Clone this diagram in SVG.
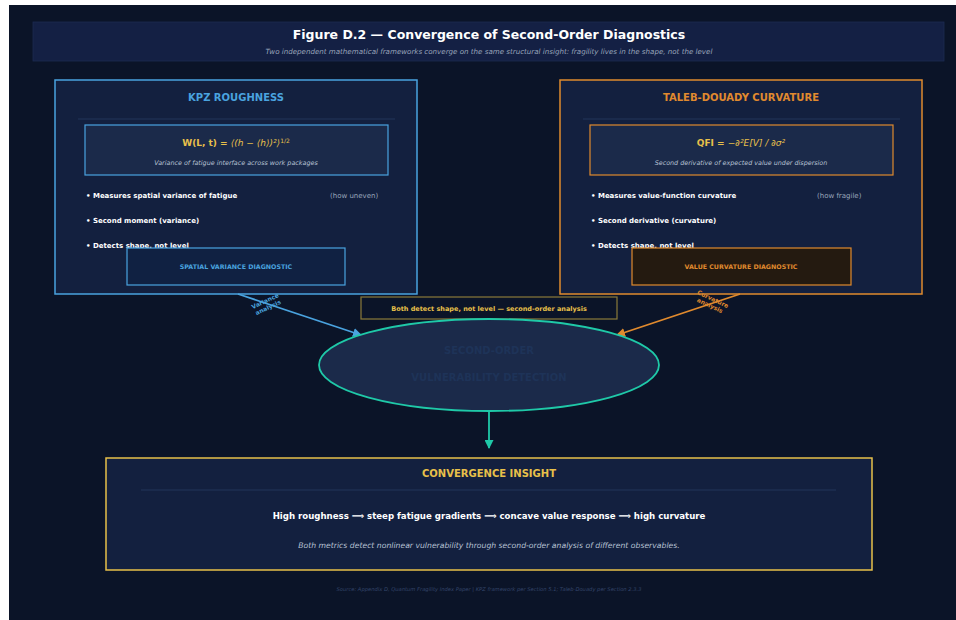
<svg xmlns="http://www.w3.org/2000/svg" width="956" height="620" viewBox="0 0 956 620">
<defs>
<style>
text{font-family:"DejaVu Sans","Liberation Sans",sans-serif}
.bg{fill:#0b1428}
.panel{fill:#13203f;stroke-width:1.5}
.inner{fill:#1b2a4a;stroke-width:1.2}
.blue{stroke:#4aa3df}
.orange{stroke:#e08a2e}
.h{font-weight:bold;font-size:10px;text-anchor:middle}
.f{font-size:9px;text-anchor:middle;fill:#e8c04a}
.sub{font-style:italic;font-size:6.4px;fill:#b8c2d4;text-anchor:middle}
.b{font-weight:bold;font-size:7px;fill:#ffffff}
.g{font-size:7px;fill:#9aa6bb}
.diag{font-weight:bold;font-size:6.3px;text-anchor:middle}
.sep{stroke:#23345a;stroke-width:1}
.lbl{font-weight:bold;font-size:6px;text-anchor:middle}
</style>
<marker id="ab" markerWidth="9" markerHeight="9" refX="8" refY="4.5" orient="auto" markerUnits="userSpaceOnUse"><path d="M0,0 L9,4.5 L0,9 Z" fill="#4aa3df"/></marker>
<marker id="ao" markerWidth="9" markerHeight="9" refX="8" refY="4.5" orient="auto" markerUnits="userSpaceOnUse"><path d="M0,0 L9,4.5 L0,9 Z" fill="#e08a2e"/></marker>
<marker id="at" markerWidth="9" markerHeight="9" refX="8" refY="4.5" orient="auto" markerUnits="userSpaceOnUse"><path d="M0,0 L9,4.5 L0,9 Z" fill="#1fc9a8"/></marker>
</defs>
<rect x="0" y="0" width="956" height="620" fill="#ffffff"/>
<rect class="bg" x="9" y="5" width="947" height="615"/>

<g id="header">
<rect x="33" y="22" width="911" height="39" fill="#142044" stroke="#1c2b52" stroke-width="0.8"/>
<text x="489" y="39" text-anchor="middle" font-weight="bold" font-size="12.5" fill="#ffffff">Figure D.2 — Convergence of Second-Order Diagnostics</text>
<text x="489" y="54" text-anchor="middle" font-style="italic" font-size="7.1" fill="#9aa6bb">Two independent mathematical frameworks converge on the same structural insight: fragility lives in the shape, not the level</text>
</g>

<g id="kpz">
<rect class="panel blue" x="55" y="80" width="362" height="214"/>
<text class="h" x="236" y="101" fill="#4aa3df">KPZ ROUGHNESS</text>
<line class="sep" x1="78" y1="119" x2="395" y2="119"/>
<rect class="inner blue" x="85" y="125" width="303" height="50"/>
<text class="f" x="236" y="146"><tspan font-weight="bold">W(L, t) = </tspan><tspan font-style="italic">⟨(h − ⟨h⟩)²⟩</tspan><tspan font-size="6" dy="-3">1/2</tspan></text>
<text class="sub" x="236" y="165">Variance of fatigue interface across work packages</text>
<text class="b" x="86" y="198">•  Measures spatial variance of fatigue</text>
<text class="g" x="330" y="198">(how uneven)</text>
<text class="b" x="86" y="223">•  Second moment (variance)</text>
<text class="b" x="86" y="248">•  Detects shape, not level</text>
</g>
<g id="kpz-diag">
<rect x="127" y="248" width="218" height="37" fill="#102142" stroke="#4aa3df" stroke-width="1.2"/>
<text class="diag" x="236" y="269" fill="#4aa3df">SPATIAL VARIANCE DIAGNOSTIC</text>
</g>

<g id="taleb">
<rect class="panel orange" x="560" y="80" width="362" height="214"/>
<text class="h" x="741" y="101" fill="#e08a2e">TALEB-DOUADY CURVATURE</text>
<line class="sep" x1="583" y1="119" x2="900" y2="119"/>
<rect class="inner orange" x="590" y="125" width="303" height="50"/>
<text class="f" x="741" y="146"><tspan font-weight="bold">QFI = </tspan><tspan font-style="italic">−∂²E[V] / ∂σ²</tspan></text>
<text class="sub" x="741" y="165">Second derivative of expected value under dispersion</text>
<text class="b" x="591" y="198">•  Measures value-function curvature</text>
<text class="g" x="817" y="198">(how fragile)</text>
<text class="b" x="591" y="223">•  Second derivative (curvature)</text>
<text class="b" x="591" y="248">•  Detects shape, not level</text>
</g>
<g id="taleb-diag">
<rect x="632" y="248" width="219" height="37" fill="#241a10" stroke="#e08a2e" stroke-width="1.2"/>
<text class="diag" x="741" y="269" fill="#e08a2e">VALUE CURVATURE DIAGNOSTIC</text>
</g>

<g id="connectors">
<line x1="238" y1="294" x2="361" y2="335" stroke="#4aa3df" stroke-width="1.8" marker-end="url(#ab)"/>
<line x1="740" y1="294" x2="617" y2="335" stroke="#e08a2e" stroke-width="1.8" marker-end="url(#ao)"/>
<line x1="489" y1="411" x2="489" y2="448" stroke="#1fc9a8" stroke-width="1.8" marker-end="url(#at)"/>
<text class="lbl" fill="#4aa3df" transform="translate(266,303) rotate(-25)"><tspan x="0" y="0">Variance</tspan><tspan x="0" y="7">analysis</tspan></text>
<text class="lbl" fill="#e08a2e" transform="translate(712,301) rotate(25)"><tspan x="0" y="0">Curvature</tspan><tspan x="0" y="7">analysis</tspan></text>
</g>

<g id="shared-label">
<rect x="361" y="297" width="256" height="22" fill="#0b1428" stroke="#8a7a3a" stroke-width="1.2"/>
<text x="489" y="310.5" text-anchor="middle" font-weight="bold" font-size="6.5" fill="#e8c04a">Both detect shape, not level — second-order analysis</text>
</g>

<g id="detection">
<ellipse cx="489" cy="365" rx="170" ry="46" fill="#1b2a4a" stroke="#1fc9a8" stroke-width="1.8"/>
<text x="489" y="354" text-anchor="middle" font-weight="bold" font-size="10" fill="#1e3358">SECOND-ORDER</text>
<text x="489" y="381" text-anchor="middle" font-weight="bold" font-size="10" fill="#1e3358">VULNERABILITY DETECTION</text>
</g>

<g id="insight">
<rect x="106" y="458" width="766" height="112" fill="#13203f" stroke="#e8c04a" stroke-width="1.5"/>
<text x="489" y="477" text-anchor="middle" font-weight="bold" font-size="10" fill="#e8c04a">CONVERGENCE INSIGHT</text>
<line class="sep" x1="141" y1="490" x2="836" y2="490"/>
<text x="489" y="519" text-anchor="middle" font-weight="bold" font-size="8.6" fill="#ffffff">High roughness  ⟹  steep fatigue gradients  ⟹  concave value response  ⟹  high curvature</text>
<text x="489" y="548" text-anchor="middle" font-style="italic" font-size="7.7" fill="#b8c2d4">Both metrics detect nonlinear vulnerability through second-order analysis of different observables.</text>
</g>

<g id="footer">
<text x="489" y="591" text-anchor="middle" font-style="italic" font-size="5.2" fill="#34456a">Source: Appendix D, Quantum Fragility Index Paper  |  KPZ framework per Section 5.1; Taleb-Douady per Section 2.3.3</text>
</g>
</svg>
